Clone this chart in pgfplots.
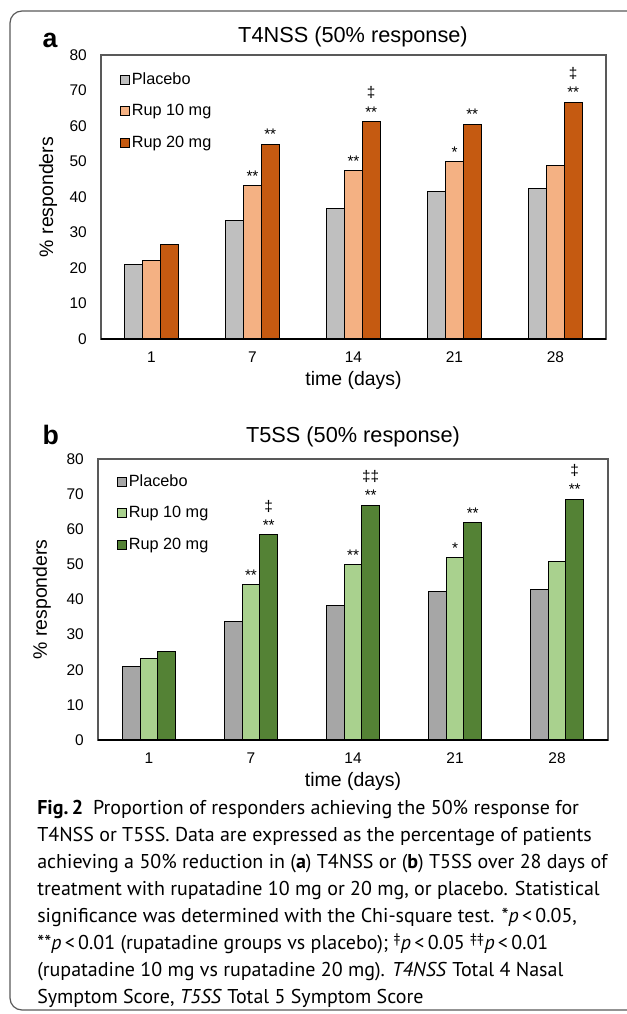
\documentclass[border=0pt]{standalone}
\usepackage{pgfplots}
\pgfplotsset{compat=1.18}
\usepackage{fontspec}
\setmainfont{Liberation Sans}
\newfontfamily\capfont{PT Sans}

\definecolor{aplac}{HTML}{BFBFBF}
\definecolor{aten}{HTML}{F4B183}
\definecolor{atwenty}{HTML}{C55A11}
\definecolor{bplac}{HTML}{A6A6A6}
\definecolor{bten}{HTML}{A9D18E}
\definecolor{btwenty}{HTML}{548235}
\definecolor{frame}{HTML}{595959}

% annotation stacks over the bars
\newcommand{\stk}[1]{\begin{tabular}{@{}c@{}}#1\end{tabular}}
\newcommand{\nil}{}
\newcommand{\oneS}{\stk{*}}
\newcommand{\twoS}{\stk{**}}
\newcommand{\dgTwo}{\stk{‡\\\relax**}}
\newcommand{\ddgTwo}{\stk{‡‡\\\relax**}}

\pgfplotsset{
  resp/.style={
    scale only axis,
    ybar=0pt, bar width=13.3pt,
    xmin=0.5, xmax=5.5, ymin=0, ymax=80,
    xtick={1,...,5}, xticklabels={1,7,14,21,28},
    ytick={0,10,...,80},
    major tick length=0pt,
    /pgf/number format/assume math mode=true,
    tick label style={font=\fontsize{11.6pt}{13pt}\selectfont},
    xticklabel style={anchor=center, yshift=-13.5pt},
    yticklabel style={anchor=east, inner sep=0pt, xshift=-10.5pt},
    axis line style={draw=frame, line width=0.8pt},
    xlabel={time (days)}, ylabel={\% responders},
    label style={font=\fontsize{14.6pt}{16pt}\selectfont},
    xlabel style={at={(axis description cs:0.5,0)}, anchor=center, yshift=-30.75pt},
    legend style={draw=none, fill=none, at={(axis description cs:0,1)}, anchor=north west,
      xshift=11pt, yshift=-10.5pt, font=\fontsize{12.2pt}{13pt}\selectfont,
      row sep=12.6pt, column sep=1pt, nodes={inner sep=0.5pt}},
    legend cell align=left,
    legend image code/.code={\draw[#1,draw=black,line width=0.6pt] (0pt,-3.4pt) rectangle (6.8pt,3.4pt);},
    every axis plot/.append style={draw=black, line width=0.75pt},
    after end axis/.code={\draw[black, line width=1pt] (rel axis cs:0,0) -- (rel axis cs:1,0);},
  },
  ann/.style={
    nodes near coords={\pgfplotspointmeta},
    point meta=explicit symbolic,
    every node near coord/.append style={font=\fontsize{11.5pt}{14.5pt}\selectfont, inner sep=0pt, anchor=south, yshift=-1.5pt},
  },
}

\begin{document}
\begin{tikzpicture}[x=0.75pt, y=0.75pt]
\path[use as bounding box] (0,0) rectangle (627,1014);
\draw[frame, line width=0.9pt, rounded corners=9pt] (10,1003) rectangle (700,4);
\coordinate (PA) at (101,675);
\coordinate (PB) at (98,274);

% panel a
\node[anchor=base west, font=\bfseries\fontsize{20pt}{22pt}\selectfont] at (38,966) {a};
\node[font=\fontsize{16.3pt}{18pt}\selectfont] at (353,977) {T4NSS (50\% response)};
\begin{axis}[resp, at={(PA)}, anchor=south west, width=378.75pt, height=213pt,
  ylabel style={at={(axis description cs:-0.105,0.5)}, anchor=center}]
\addplot[fill=aplac] coordinates {(1,21.1) (2,33.5) (3,36.9) (4,41.6) (5,42.5)};
\addplot[fill=aten, ann] coordinates {(1,22.1) [\nil] (2,43.2) [\twoS] (3,47.5) [\twoS] (4,50.0) [\oneS] (5,48.9) [\nil]};
\addplot[fill=atwenty, ann] coordinates {(1,26.5) [\nil] (2,54.9) [\twoS] (3,61.3) [\dgTwo] (4,60.5) [\twoS] (5,66.7) [\dgTwo]};
\legend{Placebo, Rup 10 mg, Rup 20 mg}
\end{axis}

% panel b
\node[anchor=base west, font=\bfseries\fontsize{20pt}{22pt}\selectfont] at (38,569) {b};
\node[font=\fontsize{16.3pt}{18pt}\selectfont] at (353,577) {T5SS (50\% response)};
\begin{axis}[resp, at={(PB)}, anchor=south west, width=382.5pt, height=210.75pt,
  ylabel style={at={(axis description cs:-0.11,0.5)}, anchor=center},
  legend style={yshift=1.5pt}]
\addplot[fill=bplac] coordinates {(1,20.8) (2,33.6) (3,38.2) (4,42.2) (5,42.8)};
\addplot[fill=bten, ann] coordinates {(1,23.3) [\nil] (2,44.3) [\twoS] (3,50.0) [\twoS] (4,51.9) [\oneS] (5,50.7) [\nil]};
\addplot[fill=btwenty, ann] coordinates {(1,25.2) [\nil] (2,58.4) [\dgTwo] (3,66.9) [\ddgTwo] (4,61.8) [\twoS] (5,68.6) [\dgTwo]};
\legend{Placebo, Rup 10 mg, Rup 20 mg}
\end{axis}

% caption
\begin{scope}[every node/.style={anchor=base west, inner sep=0pt, font=\capfont\fontsize{15pt}{17pt}\selectfont}]
\node at (37,199) {\textbf{Fig.\,2}\enspace Proportion of responders achieving the 50\% response for};
\node at (37,172) {T4NSS or T5SS. Data are expressed as the percentage of patients};
\node at (37,145) {achieving a 50\% reduction in (\textbf{a}) T4NSS or (\textbf{b}) T5SS over 28 days of};
\node at (37,118) {treatment with rupatadine 10 mg or 20 mg, or placebo. Statistical};
\node at (37,91) {significance was determined with the Chi-square test. *\textit{p}\,<\,0.05,};
\node at (37,64) {**\textit{p}\,<\,0.01 (rupatadine groups vs placebo); \textsuperscript{‡}\textit{p}\,<\,0.05 \textsuperscript{‡‡}\textit{p}\,<\,0.01};
\node at (37,37) {(rupatadine 10 mg vs rupatadine 20 mg). \textit{T4NSS} Total 4 Nasal};
\node at (37,10) {Symptom Score, \textit{T5SS} Total 5 Symptom Score};
\end{scope}
\end{tikzpicture}
\end{document}
